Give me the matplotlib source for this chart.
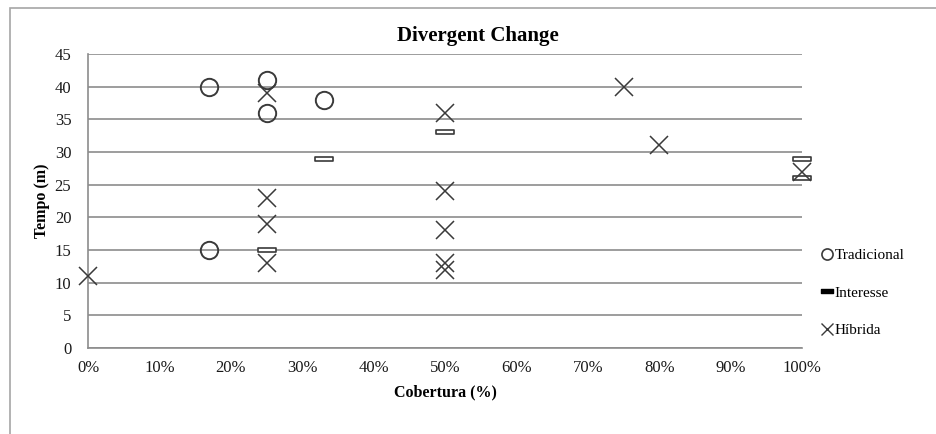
import numpy as np
import matplotlib.pyplot as plt
from matplotlib.path import Path
from matplotlib.lines import Line2D
from matplotlib.patches import Rectangle
from matplotlib.ticker import PercentFormatter

plt.rcParams['font.family'] = ['Liberation Serif', 'DejaVu Serif']

# Cobertura (%) x Tempo (m) for each approach
trad_cov = [17, 25, 25, 33, 17]
trad_time = [40, 41, 36, 38, 15]

inter_cov = [33, 25, 50, 100, 100]
inter_time = [29, 15, 33, 29, 26]

hib_cov = [0, 25, 25, 25, 25, 50, 50, 50, 50, 50, 75, 80, 100]
hib_time = [11, 39, 23, 19, 13, 36, 24, 18, 13, 12, 40, 31, 27]

# flat bar marker for "Interesse"
bar = Path([(-1, -0.25), (1, -0.25), (1, 0.25), (-1, 0.25), (-1, -0.25)],
           [Path.MOVETO, Path.LINETO, Path.LINETO, Path.LINETO, Path.CLOSEPOLY])

ink = '#3a3a3a'
grid_c = '#8c8c8c'

fig = plt.figure(figsize=(9.36, 4.34), dpi=100)
ax = fig.add_axes([88/936, 1 - 348/434, (802 - 88)/936, (348 - 54)/434])

ax.plot(trad_cov, trad_time, linestyle='none', marker='o', ms=12.5,
        mfc='none', mec=ink, mew=1.4, zorder=3, clip_on=False)
ax.plot(inter_cov, inter_time, linestyle='none', marker=bar, ms=13,
        mfc='white', mec=ink, mew=1.2, zorder=3, clip_on=False)
ax.plot(hib_cov, hib_time, linestyle='none', marker='x', ms=13,
        color=ink, mew=1.1, zorder=3, clip_on=False)

ax.set_xlim(0, 100)
ax.set_ylim(0, 45)
ax.set_xticks(np.arange(0, 101, 10))
ax.set_yticks(np.arange(0, 46, 5))
ax.xaxis.set_major_formatter(PercentFormatter(decimals=0))
ax.tick_params(length=0, labelsize=12, colors='#1a1a1a', pad=9)
ax.tick_params(axis='y', pad=12)

ax.grid(axis='y', color=grid_c, linewidth=1.2)
ax.set_axisbelow(True)
for side in ['top', 'right']:
    ax.spines[side].set_visible(False)
for side in ['left', 'bottom']:
    ax.spines[side].set_color(grid_c)
    ax.spines[side].set_linewidth(1.2)

ax.set_xlabel('Cobertura (%)', fontsize=11.5, fontweight='bold', labelpad=6)
ax.set_ylabel('Tempo (m)', fontsize=11.5, fontweight='bold', labelpad=3)
fig.text(478/936, 1 - 36/434, 'Divergent Change', ha='center', va='center',
         fontsize=15, fontweight='bold')

handles = [
    Line2D([], [], linestyle='none', marker='o', ms=8, mfc='none', mec=ink, mew=1.2),
    Line2D([], [], linestyle='none', marker=bar, ms=9, mfc='black', mec='black'),
    Line2D([], [], linestyle='none', marker='x', ms=9, color=ink, mew=1.0),
]
fig.legend(handles, ['Tradicional', 'Interesse', 'Híbrida'],
           loc='upper left', bbox_to_anchor=(814/936, 1 - 241/434),
           frameon=False, fontsize=11, handlelength=0.7, handletextpad=0.15,
           labelspacing=1.55, borderpad=0)

# chart border
fig.add_artist(Rectangle((10/936, -0.1), 1.2, 1 - 8/434 + 0.1,
                         transform=fig.transFigure, fill=False,
                         edgecolor='#a6a6a6', linewidth=1.2))

fig.savefig('out.png', dpi=100)
